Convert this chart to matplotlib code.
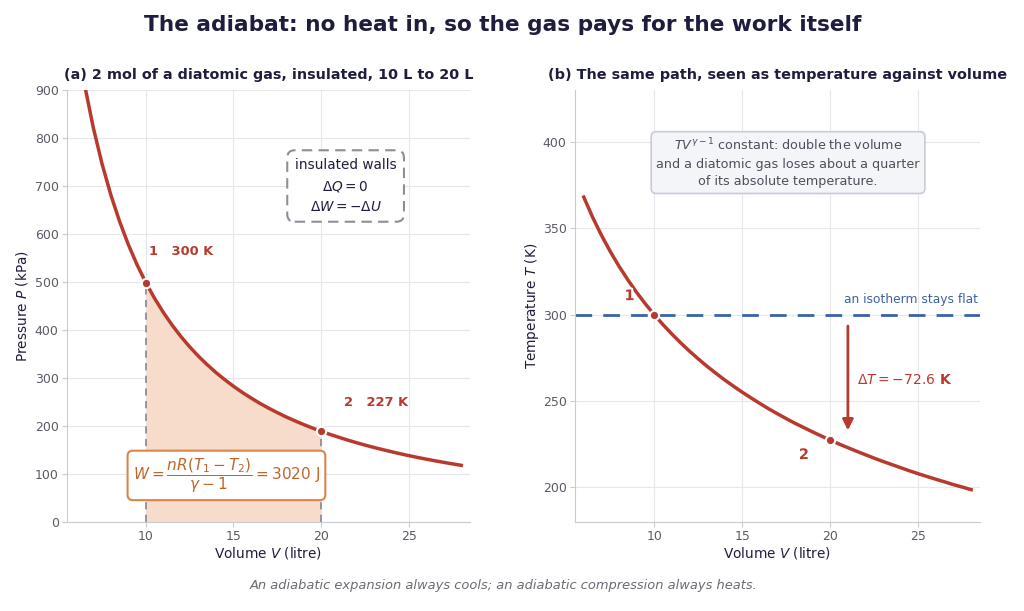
import matplotlib
matplotlib.use("Agg")
import matplotlib.pyplot as plt
import matplotlib.patheffects as pe

# ---- data ----
volume_L = [6, 6.5, 7, 7.5, 8, 8.5, 9, 9.5, 10, 10.5, 11, 11.5, 12, 12.5, 13,
            13.5, 14, 14.5, 15, 15.5, 16, 16.5, 17, 17.5, 18, 18.5, 19, 19.5,
            20, 20.5, 21, 21.5, 22, 22.5, 23, 23.5, 24, 24.5, 25, 25.5, 26,
            26.5, 27, 27.5, 28]
pressure_kPa = [1019.9, 911.7, 821.9, 746.3, 681.8, 626.4, 578.1, 535.9, 498.8,
                465.9, 436.6, 410.2, 386.5, 365.0, 345.5, 327.8, 311.4, 296.6,
                282.8, 270.1, 258.4, 247.4, 237.3, 227.9, 219.0, 210.9, 203.1,
                195.9, 189.1, 182.6, 176.6, 170.8, 165.4, 160.3, 155.4, 150.9,
                146.5, 142.3, 138.3, 134.5, 130.9, 127.5, 124.2, 121.1, 118.0]
temperature_K = [368.0, 356.4, 346.0, 336.6, 328.0, 320.2, 312.9, 306.2, 300.0,
                 294.2, 288.8, 283.7, 278.9, 274.4, 270.1, 266.1, 262.2, 258.6,
                 255.1, 251.8, 248.6, 245.5, 242.6, 239.8, 237.1, 234.6, 232.1,
                 229.7, 227.4, 225.1, 223.0, 220.9, 218.9, 216.9, 215.0, 213.2,
                 211.4, 209.6, 207.9, 206.3, 204.7, 203.2, 201.6, 200.2, 198.7]
state_V = [10, 20]
state_P = [498.8, 189.1]
state_T = [300, 227.4]
isotherm_T = 300
delta_T = -72.6
work_J = 3020

RED = "#b83a2e"
NAVY = "#1f1d3d"
GRAY_T = "#5a5a66"
BLUE = "#3a62a8"
ORANGE = "#c0652a"
GRID = "#e6e7ec"
SPINE = "#c9cbd2"

plt.rcParams['font.family'] = ['DejaVu Sans']

fig = plt.figure(figsize=(10.24, 6.11), dpi=100)
axL = fig.add_axes([0.0654, 0.1457, 0.3936, 0.707])
axR = fig.add_axes([0.5615, 0.1457, 0.3955, 0.707])

for ax in (axL, axR):
    ax.set_xlim(5.5, 28.5)
    ax.grid(True, color=GRID, lw=0.8)
    ax.set_axisbelow(True)
    for s in ("top", "right"):
        ax.spines[s].set_visible(False)
    for s in ("left", "bottom"):
        ax.spines[s].set_color(SPINE)
    ax.tick_params(colors=SPINE, labelcolor=GRAY_T, labelsize=9, pad=2.5)
    ax.set_xticks([10, 15, 20, 25])
    ax.set_xlabel("Volume $V$ (litre)", color=NAVY, fontsize=9.8, labelpad=1.5)

# ---- left panel ----
axL.set_ylim(0, 900)
axL.set_yticks(range(0, 901, 100))
i0, i1 = volume_L.index(10), volume_L.index(20)
axL.fill_between(volume_L[i0:i1 + 1], pressure_kPa[i0:i1 + 1], 0,
                 color="#f7dccb", lw=0, zorder=1)
for v, p in zip(state_V, state_P):
    axL.plot([v, v], [0, p], ls=(0, (4, 3)), color="#8e8e9a", lw=1.3, zorder=2)
axL.plot(volume_L, pressure_kPa, color=RED, lw=2.5, zorder=3)
axL.scatter(state_V, state_P, s=45, color=RED, edgecolor="white", lw=1.5, zorder=4)
axL.set_ylabel("Pressure $P$ (kPa)", color=NAVY, fontsize=9.8, labelpad=3)
axL.set_title("(a) 2 mol of a diatomic gas, insulated, 10 L to 20 L",
              color=NAVY, fontsize=10.4, fontweight="bold", pad=8)
axL.text(10.2, 563, "1   300 K", color=RED, fontsize=9.4, fontweight="bold",
         ha="left", va="center")
axL.text(21.3, 248, "2   227 K", color=RED, fontsize=9.4, fontweight="bold",
         ha="left", va="center")
axL.text(21.4, 700, "insulated walls\n$\\Delta Q = 0$\n$\\Delta W = -\\Delta U$",
         ha="center", va="center", fontsize=9.8, color=NAVY, linespacing=1.6,
         bbox=dict(boxstyle="round,pad=0.55", fc="white", ec="#8e8e9a",
                   ls=(0, (5, 3)), lw=1.5))
axL.text(14.6, 97,
         "$W = \\dfrac{nR(T_1 - T_2)}{\\gamma - 1} = %d$ J" % work_J,
         ha="center", va="center", fontsize=11, color=ORANGE, zorder=5,
         bbox=dict(boxstyle="round,pad=0.35", fc="white", ec="#d9854a", lw=1.5))

# ---- right panel ----
axR.set_ylim(180, 430)
axR.set_yticks([200, 250, 300, 350, 400])
axR.axhline(isotherm_T, color=BLUE, ls=(0, (6, 4)), lw=2, zorder=2)
axR.plot(volume_L, temperature_K, color=RED, lw=2.5, zorder=3)
axR.scatter(state_V, state_T, s=45, color=RED, edgecolor="white", lw=1.5, zorder=4)
axR.set_ylabel("Temperature $T$ (K)", color=NAVY, fontsize=9.8, labelpad=1)
axR.set_title("(b) The same path, seen as temperature against volume",
              color=NAVY, fontsize=10.4, fontweight="bold", pad=8)
axR.text(28.4, 305, "an isotherm stays flat", color=BLUE, fontsize=8.8,
         ha="right", va="bottom")
axR.annotate("", xy=(21, isotherm_T + delta_T + 4), xytext=(21, isotherm_T - 5),
             arrowprops=dict(arrowstyle="-|>", color=RED, lw=2,
                             mutation_scale=16), zorder=5)
axR.text(21.5, 262, "$\\Delta T = %.1f$ K" % delta_T, color=RED, fontsize=10,
         fontweight="bold", ha="left", va="center")
axR.text(8.6, 311, "1", color=RED, fontsize=10.5, fontweight="bold",
         ha="center", va="center", zorder=6,
         path_effects=[pe.withStroke(linewidth=3, foreground="white")])
axR.text(18.5, 219, "2", color=RED, fontsize=10.5, fontweight="bold",
         ha="center", va="center", zorder=6,
         path_effects=[pe.withStroke(linewidth=3, foreground="white")])
axR.text(17.6, 388,
         "$TV^{\\gamma-1}$ constant: double the volume\n"
         "and a diatomic gas loses about a quarter\n"
         "of its absolute temperature.",
         ha="center", va="center", fontsize=9.2, color="#4e4e5c", linespacing=1.45,
         bbox=dict(boxstyle="round,pad=0.4", fc="#f3f5f9", ec="#c8ccd6", lw=1.2))

fig.suptitle("The adiabat: no heat in, so the gas pays for the work itself",
             x=0.491, y=0.975, fontsize=15.6, fontweight="bold", color=NAVY)
fig.text(0.492, 0.042,
         "An adiabatic expansion always cools; an adiabatic compression always heats.",
         ha="center", va="center", fontsize=9.4, style="italic", color="#6a6a74")

fig.savefig("out.png", dpi=100)
